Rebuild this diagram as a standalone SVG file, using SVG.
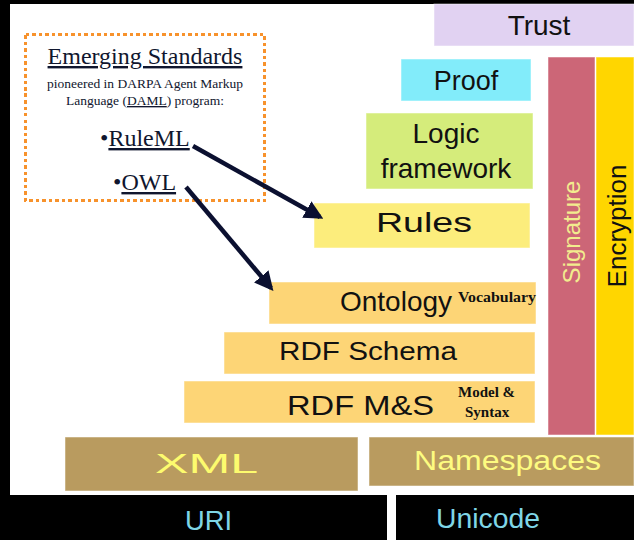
<svg xmlns="http://www.w3.org/2000/svg" width="634" height="540" viewBox="0 0 634 540">
<defs>
<style>
.sans{font-family:"Liberation Sans",Arial,sans-serif}
.serif{font-family:"Liberation Serif","Times New Roman",serif;fill:#10162e}
.lbl{font-family:"Liberation Sans",Arial,sans-serif;fill:#111;text-anchor:middle}
.sub{font-family:"Liberation Serif","Times New Roman",serif;font-weight:bold;font-size:15px;fill:#111}
.box{stroke:#ffffff;stroke-opacity:0.5;stroke-width:1}
.conn{stroke:#0b1030;stroke-width:4.5;fill:none;marker-end:url(#ah)}
</style>
<marker id="ah" viewBox="0 0 10 10" refX="8" refY="5" markerWidth="4.2" markerHeight="4.2" orient="auto" markerUnits="strokeWidth">
<path d="M0,0 L10,5 L0,10 z" fill="#0b1030"/>
</marker>
</defs>
<rect x="0" y="0" width="634" height="540" fill="#000"/>
<rect x="10" y="4" width="624" height="491" fill="#fff"/>
<rect x="387" y="495" width="9" height="45" fill="#fff"/>

<g id="trust"><rect class="box" x="434" y="4" width="200" height="42" fill="#e1d2f2"/><text class="lbl" x="539" y="35" font-size="28">Trust</text></g>
<g id="proof"><rect class="box" x="401" y="59" width="130" height="42" fill="#82ecfa"/><text class="lbl" x="466" y="90" font-size="27">Proof</text></g>
<g id="logic"><rect class="box" x="366" y="113" width="167" height="76" fill="#d5ec7b"/><text class="lbl" x="446" y="143" font-size="28">Logic</text><text class="lbl" x="446" y="178" font-size="28">framework</text></g>
<g id="rules"><rect class="box" x="314" y="203" width="216" height="45" fill="#fced7c"/><text class="lbl" x="424" y="232" font-size="28" textLength="96" lengthAdjust="spacingAndGlyphs">Rules</text></g>
<g id="ontology"><rect class="box" x="269" y="282" width="267" height="42" fill="#fdd576"/><text class="sans" x="340" y="311" font-size="28" fill="#111" textLength="112" lengthAdjust="spacingAndGlyphs">Ontology</text><text class="sub" x="458" y="302" textLength="78" lengthAdjust="spacingAndGlyphs">Vocabulary</text></g>
<g id="rdfschema"><rect class="box" x="224" y="332" width="311" height="42" fill="#fdd576"/><text class="sans" x="279" y="360" font-size="26" fill="#111" textLength="178" lengthAdjust="spacingAndGlyphs">RDF Schema</text></g>
<g id="rdfms"><rect class="box" x="184" y="381" width="351" height="42" fill="#fdd576"/><text class="sans" x="287" y="415" font-size="27" fill="#111" textLength="147" lengthAdjust="spacingAndGlyphs">RDF M&amp;S</text><text class="sub" x="458" y="397">Model &amp;</text><text class="sub" x="465" y="417">Syntax</text></g>
<g id="signature"><rect class="box" x="548" y="57" width="47" height="378" fill="#cc6677"/><text class="sans" transform="translate(580,232) rotate(-90)" text-anchor="middle" font-size="24" fill="#f2ec8e">Signature</text></g>
<g id="encryption"><rect class="box" x="596" y="57" width="38" height="378" fill="#ffd600"/><text class="sans" transform="translate(626,226) rotate(-90)" text-anchor="middle" font-size="26" fill="#111">Encryption</text></g>
<g id="xml"><rect class="box" x="65" y="437" width="293" height="54" fill="#b99b5f"/><text class="sans" x="155" y="473" font-size="28" fill="#fdfb6e" textLength="103" lengthAdjust="spacingAndGlyphs">XML</text></g>
<g id="namespaces"><rect class="box" x="369" y="437" width="265" height="49" fill="#b99b5f"/><text class="sans" x="414" y="470" font-size="27" fill="#fdfb80" textLength="187" lengthAdjust="spacingAndGlyphs">Namespaces</text></g>
<g id="uri"><text class="sans" x="185" y="530" font-size="28" fill="#7fd6e6" textLength="47" lengthAdjust="spacingAndGlyphs">URI</text></g>
<g id="unicode"><text class="sans" x="436" y="528" font-size="28" fill="#7fd6e6" textLength="104" lengthAdjust="spacingAndGlyphs">Unicode</text></g>

<g id="emerging">
<rect x="25.5" y="34.5" width="239" height="166" fill="none" stroke="#f7922c" stroke-width="3.5" stroke-dasharray="3.5 3" shape-rendering="crispEdges"/>
<text class="serif" x="145" y="64" font-size="24" text-anchor="middle" text-decoration="underline">Emerging Standards</text>
<text class="serif" x="145" y="88" font-size="13.5" text-anchor="middle">pioneered in DARPA Agent Markup</text>
<text class="serif" x="145" y="105" font-size="13.5" text-anchor="middle">Language (<tspan text-decoration="underline">DAML</tspan>) program:</text>
<text class="serif" x="100" y="146" font-size="24">•<tspan text-decoration="underline">RuleML</tspan></text>
<text class="serif" x="113" y="190" font-size="24">•<tspan text-decoration="underline">OWL</tspan></text>
</g>

<g id="connectors">
<line class="conn" x1="193" y1="146" x2="320" y2="217"/>
<line class="conn" x1="186" y1="187" x2="271" y2="288"/>
</g>
</svg>
